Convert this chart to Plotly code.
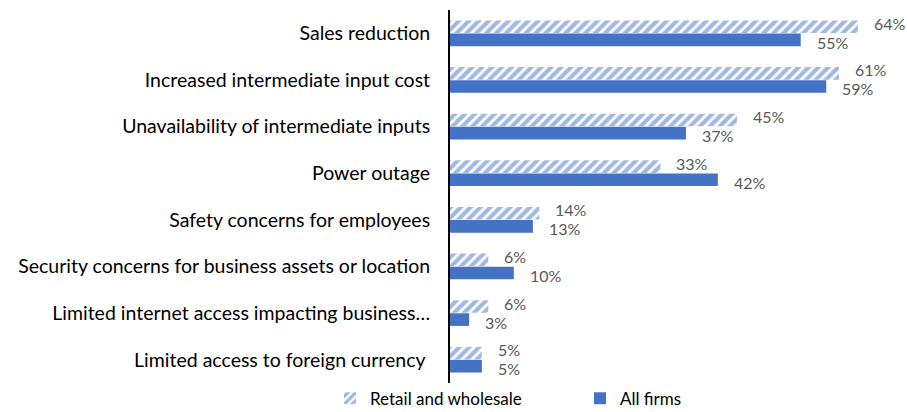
import plotly.graph_objects as go

categories = [
    "Sales reduction",
    "Increased intermediate input cost",
    "Unavailability of intermediate inputs",
    "Power outage",
    "Safety concerns for employees",
    "Security concerns for business assets or location",
    "Limited internet access impacting business…",
    "Limited access to foreign currency ",
]
retail_wholesale = [64, 61, 45, 33, 14, 6, 6, 5]
all_firms = [55, 59, 37, 42, 13, 10, 3, 5]

BLUE = "#4472C4"
FONT = "Lato, 'Open Sans', sans-serif"

fig = go.Figure()
fig.add_trace(go.Bar(
    y=categories, x=retail_wholesale, orientation="h", name="Retail and wholesale",
    marker=dict(color="white", line=dict(width=0),
                pattern=dict(shape="/", fgcolor=BLUE, bgcolor="white", size=7, solidity=0.6, fillmode="overlay")),
    hoverinfo="x+y", legend="legend",
))
fig.add_trace(go.Bar(
    y=categories, x=all_firms, orientation="h", name="All firms",
    marker=dict(color=BLUE, line=dict(width=0)),
    hoverinfo="x+y", legend="legend2",
))

# data labels, placed just right of each bar end
for cat, v in zip(categories, retail_wholesale):
    fig.add_annotation(x=v, y=cat, text=f"{v}%", showarrow=False, xanchor="left",
                       xshift=14, yshift=10, font=dict(color="#595959", size=16, family=FONT))
for cat, v in zip(categories, all_firms):
    fig.add_annotation(x=v, y=cat, text=f"{v}%", showarrow=False, xanchor="left",
                       xshift=14, yshift=-9, font=dict(color="#595959", size=16, family=FONT))

legend_common = dict(orientation="h", xref="container", yref="container", xanchor="left",
                     y=0.032, yanchor="middle", font=dict(size=17, color="#000000"),
                     itemwidth=30, bgcolor="rgba(0,0,0,0)")

fig.update_layout(
    width=907, height=412,
    margin=dict(l=450, r=17, t=10, b=29, autoexpand=False),
    barmode="group", bargap=0.44, bargroupgap=0.03,
    plot_bgcolor="white", paper_bgcolor="white",
    font=dict(family=FONT, size=19.5, color="#000000"),
    showlegend=True,
    legend=dict(x=330 / 907, **legend_common),
    legend2=dict(x=580 / 907, **legend_common),
)
fig.update_xaxes(range=[0, 69], showticklabels=False, showgrid=False, zeroline=False,
                 showline=False, ticks="")
fig.update_yaxes(autorange="reversed", showgrid=False, zeroline=False, showline=True,
                 linecolor="black", linewidth=2, ticks="", ticklabelstandoff=14, automargin=False,
                 tickfont=dict(size=19.5, color="#000000"))

fig.write_html("out.html", config={"displayModeBar": False},
               post_script="document.body.style.margin='0';")
